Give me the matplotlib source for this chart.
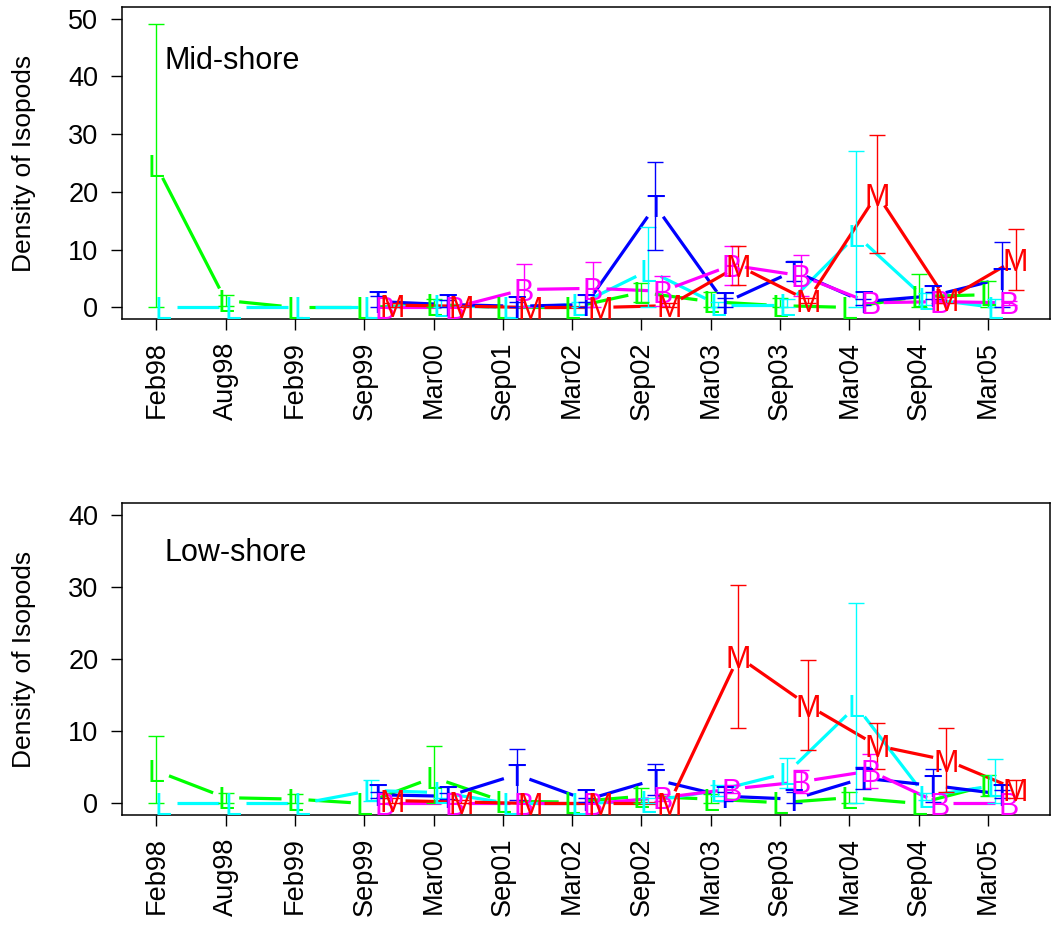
import numpy as np
import matplotlib.pyplot as plt
from matplotlib.collections import LineCollection

plt.rcParams['font.family'] = ['Liberation Sans', 'DejaVu Sans']

dates = ['Feb98', 'Aug98', 'Feb99', 'Sep99', 'Mar00', 'Sep01', 'Mar02',
         'Sep02', 'Mar03', 'Sep03', 'Mar04', 'Sep04', 'Mar05']
nan = np.nan

# mid-shore: mean density and s.e. per survey
mid_l_green = [24.5, 1.2, 0, 0, 0.5, 0, 0, 2.6, 1.0, 0.3, 0, 1.9, 2.2]
mid_l_green_se = [24.6, 1.0, 0, 0, 1.0, 0, 0, 1.7, 1.6, 1.4, 0, 3.8, 2.3]
mid_l_cyan = [0, 0, 0, 0, 0.3, 0, 0.5, 6.4, 0.5, 0.5, 12.5, 1.5, 0]
mid_l_cyan_se = [0, 0, 0, 0, 1.0, 0, 0.5, 7.6, 0.5, 1.0, 14.5, 1.0, 1.5]
mid_t = [nan, nan, nan, 1.0, 0.5, 0.2, 0.5, 17.6, 0.8, 6.3, 1.0, 2.0, 5.0]
mid_t_se = [nan, nan, nan, 0.9, 0.8, 0.8, 0.5, 7.6, 0.8, 1.8, 0.5, 0.6, 6.4]
mid_b = [nan, nan, nan, 0, 0, 3.1, 3.3, 2.8, 7.3, 5.5, 0.8, 1.0, 0.8]
mid_b_se = [nan, nan, nan, 0, 0, 4.5, 4.5, 2.6, 3.4, 3.5, 0, 0.3, 0.3]
mid_m = [nan, nan, nan, 0.4, 0.2, 0, 0, 0.3, 7.2, 1.2, 19.6, 1.3, 8.3]
mid_m_se = [nan, nan, nan, 0.3, 0.3, 0, 0, 0.5, 3.4, 0.5, 10.2, 0.5, 5.2]

# low-shore
low_l_green = [4.5, 0.8, 0.6, 0, 3.6, 0.3, 0.2, 1.0, 0.6, 0.1, 0.8, 0, 2.5]
low_l_green_se = [4.8, 0.7, 0.7, 0, 4.3, 0, 0, 1.2, 0.7, 0, 0.8, 0, 1.5]
low_l_cyan = [0, 0, 0, 1.8, 1.5, 0, 0, 0.3, 1.8, 4.2, 13.5, 1.0, 2.5]
low_l_cyan_se = [0, 0, 0, 1.4, 0.8, 0, 0, 0.5, 0.8, 2.1, 14.2, 0.5, 3.6]
low_t = [nan, nan, nan, 1.2, 1.0, 4.0, 0.5, 3.3, 1.0, 0.6, 3.5, 2.5, 1.3]
low_t_se = [nan, nan, nan, 0.4, 0.4, 3.5, 0.3, 2.1, 0.6, 1.0, 1.5, 2.3, 0.5]
low_b = [nan, nan, nan, 0, 0, 0, 0, 0.8, 2.0, 3.0, 4.5, 0, 0]
low_b_se = [nan, nan, nan, 0, 0, 0, 0, 0.5, 0.5, 1.6, 2.4, 0, 0]
low_m = [nan, nan, nan, 0.4, 0.2, 0, 0, 0, 20.3, 13.6, 8.0, 6.0, 2.0]
low_m_se = [nan, nan, nan, 0.3, 0.3, 0, 0, 0, 9.9, 6.2, 3.2, 4.4, 1.2]

letters = ['L', 'L', 'T', 'B', 'M']
cols = ['#00FF00', '#00FFFF', '#0000FF', '#FF00FF', '#FF0000']
offsets = [0, 0.1, 0.2, 0.3, 0.4]


def gapped_line(ax, x, y, color, gap=13.5):
    # type="b" style: segments stop short of each point
    pts = ax.transData.transform(np.column_stack([x, y]))
    inv = ax.transData.inverted()
    segs = []
    for p, q in zip(pts[:-1], pts[1:]):
        if np.isnan(p).any() or np.isnan(q).any():
            continue
        d = q - p
        n = np.hypot(d[0], d[1])
        if n <= 2 * gap:
            continue
        u = d / n
        segs.append(inv.transform(np.array([p + u * gap, q - u * gap])))
    ax.add_collection(LineCollection(segs, colors=color, linewidths=2.3,
                                     capstyle='butt', zorder=2))


def panel(ax, series, ymax, title, title_y):
    ax.set_xlim(0.504, 13.896)
    ax.set_ylim(-0.04 * ymax, 1.04 * ymax)
    ax.set_xticks(np.arange(1, 14))
    ax.set_xticklabels(dates, rotation=90)
    ax.set_yticks(np.arange(0, ymax + 1, 10))
    ax.tick_params(labelsize=19.5, length=8, width=1)
    ax.tick_params(axis='x', pad=8)
    ax.tick_params(axis='y', pad=9)
    for s in ax.spines.values():
        s.set_linewidth(1.1)
    ax.set_ylabel('Density of Isopods', fontsize=19, labelpad=23)
    idx = np.arange(1, 14)
    for (mean, se), let, c, off in zip(series, letters, cols, offsets):
        m = np.array(mean, dtype=float)
        e = np.array(se, dtype=float)
        x = idx + off
        gapped_line(ax, x, m, c)
        ok = ~np.isnan(m) & (np.nan_to_num(e) > 0)
        lo = m - np.maximum(m - e, 0)
        ax.errorbar(x[ok], m[ok], yerr=[lo[ok], e[ok]], fmt='none', ecolor=c,
                    elinewidth=1.0, capsize=5.8, capthick=1.0, zorder=3)
        for xi, yi in zip(x, m):
            if np.isnan(yi):
                continue
            ax.text(xi, yi, let, color=c, fontsize=22, ha='center',
                    va='center_baseline', zorder=4)
    ax.text(1.12, title_y, title, fontsize=22, ha='left', va='center_baseline')


fig = plt.figure(figsize=(10.53, 9.27), dpi=100)
ax1 = fig.add_axes([0.1159, 0.6559, 0.8813, 0.3366])
ax2 = fig.add_axes([0.1159, 0.1208, 0.8813, 0.3366])

panel(ax1, [(mid_l_green, mid_l_green_se), (mid_l_cyan, mid_l_cyan_se),
            (mid_t, mid_t_se), (mid_b, mid_b_se), (mid_m, mid_m_se)],
      50, 'Mid-shore', 43.3)
panel(ax2, [(low_l_green, low_l_green_se), (low_l_cyan, low_l_cyan_se),
            (low_t, low_t_se), (low_b, low_b_se), (low_m, low_m_se)],
      40, 'Low-shore', 35.1)

fig.savefig('out.png', dpi=100)
